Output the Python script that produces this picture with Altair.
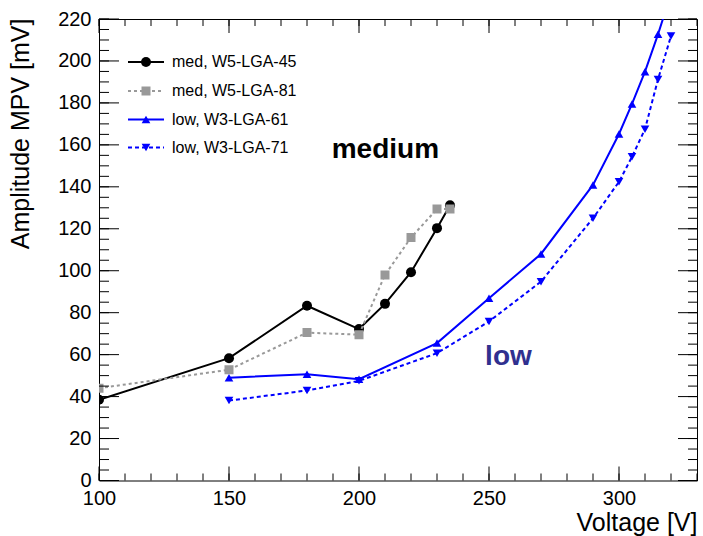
import altair as alt
import pandas as pd
import numpy as np

# ---------------- data ----------------
series_names = ["med, W5-LGA-45", "med, W5-LGA-81", "low, W3-LGA-61", "low, W3-LGA-71"]

volt_med45 = [100, 150, 180, 200, 210, 220, 230, 235]
amp_med45 = [38.5, 58.3, 83.3, 72.2, 84.2, 99.3, 120.3, 131.2]

volt_med81 = [100, 150, 180, 200, 210, 220, 230, 235]
amp_med81 = [44.0, 52.8, 70.5, 69.5, 98.0, 115.8, 129.4, 129.4]

volt_low61 = [150, 180, 200, 230, 250, 270, 290, 300, 305, 310, 315, 320]
amp_low61 = [49.0, 50.7, 48.3, 65.5, 86.9, 108.0, 140.9, 165.2, 179.5, 194.9, 212.7, 232.0]

volt_low71 = [150, 180, 200, 230, 250, 270, 290, 300, 305, 310, 315, 320]
amp_low71 = [38.1, 42.9, 47.5, 60.7, 75.8, 94.8, 125.0, 142.4, 154.3, 167.5, 191.2, 211.9]

x_tick_labels = [100, 150, 200, 250, 300]
y_tick_labels = list(range(0, 221, 20))
x_minor = list(range(100, 331, 10))
y_minor = list(range(0, 221, 5))

annot_text = ["medium", "low"]

# ---------------- styles ----------------
W, H = 598, 461.5
FONT = "Liberation Sans"
colors = ["#000000", "#999999", "#0000ff", "#0000ff"]
dashes = [None, [3, 3], None, [4, 3]]
shapes = ["circle", "square", "triangle-up", "triangle-down"]
sizes = [100, 81, 75, 75]

xscale = alt.Scale(domain=[100, 330], nice=False, zero=False)
yscale = alt.Scale(domain=[0, 220], nice=False, zero=False)

xaxis = alt.Axis(values=x_tick_labels, title="Voltage [V]", labelFont=FONT, labelFontSize=20,
                 labelColor="black", labelPadding=8, labelFlush=False, labelOverlap=False,
                 ticks=False, domain=False, grid=False,
                 titleFont=FONT, titleFontSize=25, titleFontWeight="normal", titleColor="black",
                 titleAnchor="end", titleAlign="right", titleBaseline="alphabetic",
                 titleX=W, titleY=49.5)
yaxis = alt.Axis(values=y_tick_labels, title="Amplitude MPV [mV]", labelFont=FONT, labelFontSize=20,
                 labelColor="black", labelPadding=8, labelFlush=False, labelOverlap=False,
                 ticks=False, domain=False, grid=False,
                 titleFont=FONT, titleFontSize=25, titleFontWeight="normal", titleColor="black",
                 titleAnchor="end", titleAngle=270, titleAlign="right", titleBaseline="alphabetic",
                 titleX=-71, titleY=-1)


def X():
    return alt.X("volt:Q", scale=xscale, axis=xaxis)


def Y():
    return alt.Y("amp:Q", scale=yscale, axis=yaxis)


layers = []

# ---------------- data series ----------------
all_v = [volt_med45, volt_med81, volt_low61, volt_low71]
all_a = [amp_med45, amp_med81, amp_low61, amp_low71]
for i, name in enumerate(series_names):
    df = pd.DataFrame({"volt": all_v[i], "amp": all_a[i], "series": name})
    line_kw = dict(color=colors[i], strokeWidth=2, clip=True)
    if dashes[i]:
        line_kw["strokeDash"] = dashes[i]
    layers.append(alt.Chart(df).mark_line(**line_kw).encode(x=X(), y=Y()))
    layers.append(alt.Chart(df).mark_point(shape=shapes[i], size=sizes[i], filled=True,
                                           color=colors[i], opacity=1, strokeWidth=0,
                                           clip=True).encode(x=X(), y=Y()))

# ---------------- ticks (inside the frame, ROOT style) ----------------
def xticks(vals, length):
    df = pd.DataFrame({"volt": vals})
    bottom = alt.Chart(df).mark_rule(color="black", strokeWidth=1).encode(
        x=X(), y=alt.value(H), y2=alt.value(H - length))
    top = alt.Chart(df).mark_rule(color="black", strokeWidth=1).encode(
        x=X(), y=alt.value(0), y2=alt.value(length))
    return [bottom, top]


def yticks(vals, length_l, length_r):
    df = pd.DataFrame({"amp": vals})
    left = alt.Chart(df).mark_rule(color="black", strokeWidth=1).encode(
        y=Y(), x=alt.value(0), x2=alt.value(length_l))
    right = alt.Chart(df).mark_rule(color="black", strokeWidth=1).encode(
        y=Y(), x=alt.value(W), x2=alt.value(W - length_r))
    return [left, right]


layers += xticks(x_minor, 7)
layers += xticks(x_tick_labels, 14)
layers += yticks(y_minor, 10, 9)
layers += yticks(y_tick_labels, 20, 19)

# ---------------- annotations ----------------
ann_med = pd.DataFrame({"volt": [189.5], "amp": [153.5], "label": [annot_text[0]]})
ann_low = pd.DataFrame({"volt": [248.5], "amp": [55.0], "label": [annot_text[1]]})
layers.append(alt.Chart(ann_med).mark_text(font=FONT, fontSize=28, fontWeight="bold", color="black",
                                           align="left", baseline="alphabetic").encode(
    x=X(), y=Y(), text="label:N"))
layers.append(alt.Chart(ann_low).mark_text(font=FONT, fontSize=28, fontWeight="bold", color="#30308f",
                                           align="left", baseline="alphabetic").encode(
    x=X(), y=Y(), text="label:N"))

# ---------------- legend (top-left, inside the frame) ----------------
leg_rows = [43, 72, 100.5, 128.5]
for i, name in enumerate(series_names):
    ldf = pd.DataFrame({"name": [name]})
    rule_kw = dict(color=colors[i], strokeWidth=2)
    if dashes[i]:
        rule_kw["strokeDash"] = dashes[i]
    layers.append(alt.Chart(ldf).mark_rule(**rule_kw).encode(
        x=alt.value(29), x2=alt.value(65), y=alt.value(leg_rows[i])))
    layers.append(alt.Chart(ldf).mark_point(shape=shapes[i], size=sizes[i], filled=True,
                                            color=colors[i], opacity=1, strokeWidth=0).encode(
        x=alt.value(47), y=alt.value(leg_rows[i])))
    layers.append(alt.Chart(ldf).mark_text(font=FONT, fontSize=16, color="black",
                                           align="left", baseline="middle").encode(
        x=alt.value(73), y=alt.value(leg_rows[i]), text="name:N"))

chart = alt.layer(*layers).properties(
    width=W, height=H,
    autosize=alt.AutoSizeParams(type="none"),
    padding={"left": 99, "top": 19, "right": 6, "bottom": 55.5},
    background="white",
).configure_view(stroke="black", strokeWidth=1)

chart.save("out.html", embed_options={"renderer": "svg", "actions": False})
